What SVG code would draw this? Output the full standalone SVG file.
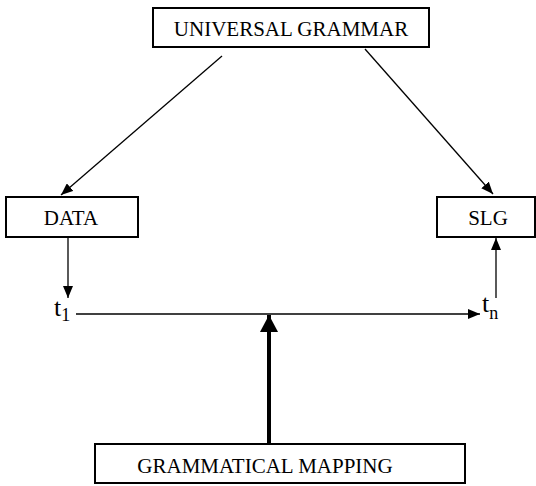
<svg xmlns="http://www.w3.org/2000/svg" width="536" height="486" viewBox="0 0 536 486">
<style>
.box{fill:#fff;stroke:#000;stroke-width:2}
.lbl{font-family:"Liberation Serif","Times New Roman",serif;font-size:21px;fill:#000;text-anchor:middle}
.t{font-family:"Liberation Serif","Times New Roman",serif;fill:#000}
.ln{stroke:#000;stroke-width:1.3;fill:none}
</style>
<defs>
<marker id="ah" markerWidth="12" markerHeight="10" refX="12" refY="5" orient="auto" markerUnits="userSpaceOnUse"><path d="M0,0 L12,5 L0,10 Z" fill="#000"/></marker>
<marker id="ahb" markerWidth="17" markerHeight="18" refX="17" refY="9" orient="auto" markerUnits="userSpaceOnUse"><path d="M0,0 L17,9 L0,18 Z" fill="#000"/></marker>
</defs>
<g id="ug"><rect class="box" x="153" y="8" width="276" height="39"/><text class="lbl" x="291" y="36">UNIVERSAL GRAMMAR</text></g>
<g id="data"><rect class="box" x="6" y="197" width="132" height="40"/><text class="lbl" x="71" y="225">DATA</text></g>
<g id="slg"><rect class="box" x="437" y="197" width="98" height="40"/><text class="lbl" x="488" y="225">SLG</text></g>
<g id="gm"><rect class="box" x="95" y="444" width="370" height="39"/><text class="lbl" x="265" y="473">GRAMMATICAL MAPPING</text></g>
<g id="t1"><text class="t" x="54" y="316" font-size="26">t<tspan font-size="18" dy="5">1</tspan></text></g>
<g id="tn"><text class="t" x="482" y="312" font-size="26">t<tspan font-size="18" dy="7">n</tspan></text></g>
<g id="connectors">
<line class="ln" x1="222" y1="56" x2="61" y2="195" marker-end="url(#ah)"/>
<line class="ln" x1="365" y1="49" x2="493" y2="194" marker-end="url(#ah)"/>
<line class="ln" x1="68" y1="238" x2="68" y2="298" marker-end="url(#ah)"/>
<line class="ln" x1="496" y1="298" x2="496" y2="238" marker-end="url(#ah)"/>
<line class="ln" x1="76" y1="314" x2="480" y2="314" marker-end="url(#ah)"/>
<line x1="269" y1="443" x2="269" y2="315" stroke="#000" stroke-width="4" marker-end="url(#ahb)"/>
</g>
</svg>
